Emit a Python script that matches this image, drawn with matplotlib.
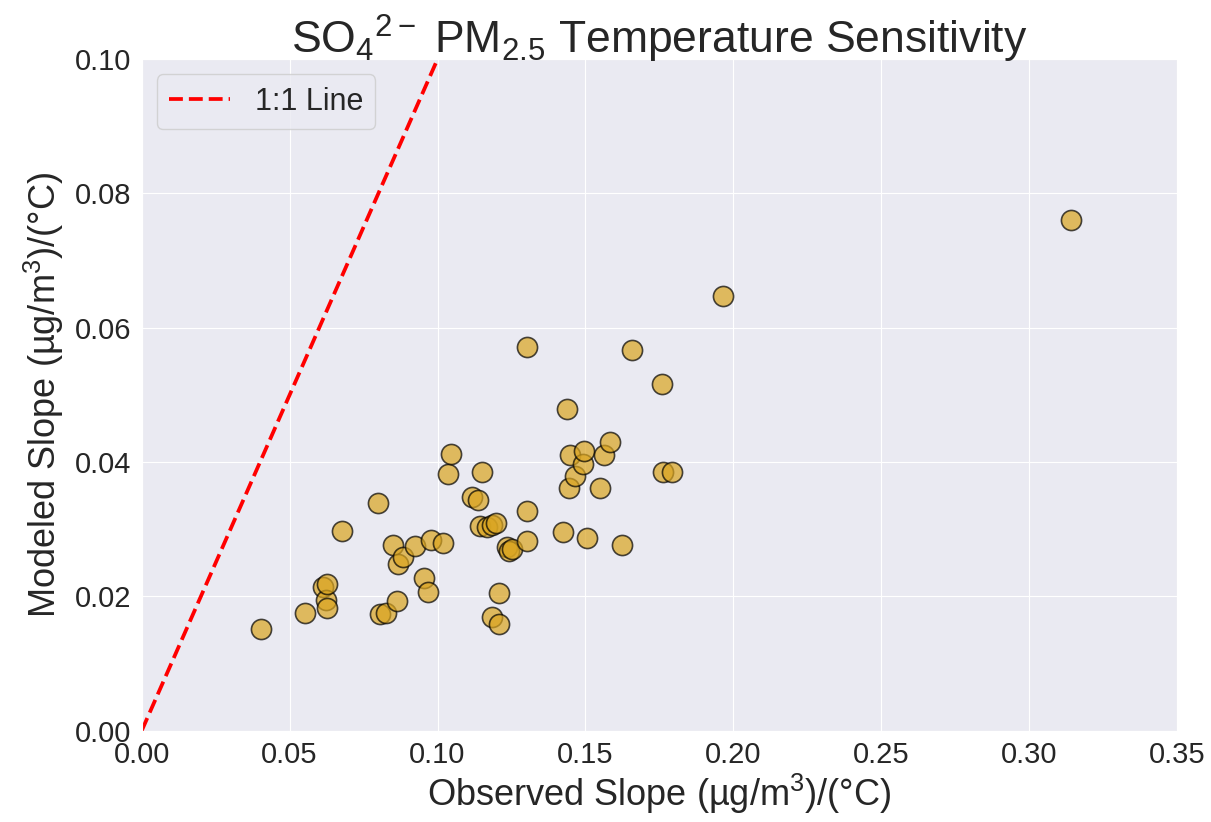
import numpy as np
import matplotlib
matplotlib.use("Agg")
import matplotlib.pyplot as plt
import seaborn as sns

# ------------ dados ------------------------------- #
obs_slope = [0.0402, 0.0551, 0.0612, 0.0622, 0.0626, 0.0626, 0.0676, 0.0798, 0.0805, 0.0825,
             0.0849, 0.0862, 0.0866, 0.0883, 0.0923, 0.0954, 0.0967, 0.0977, 0.1018, 0.1035,
             0.1045, 0.1116, 0.1136, 0.1143, 0.1150, 0.1167, 0.1184, 0.1184, 0.1197, 0.1207,
             0.1207, 0.1234, 0.1241, 0.1251, 0.1302, 0.1302, 0.1302, 0.1424, 0.1437, 0.1444,
             0.1447, 0.1464, 0.1491, 0.1495, 0.1505, 0.1549, 0.1562, 0.1583, 0.1623, 0.1657,
             0.1759, 0.1762, 0.1792, 0.1965, 0.3142]
mod_slope = [0.0152, 0.0176, 0.0214, 0.0195, 0.0219, 0.0183, 0.0298, 0.0339, 0.0174, 0.0176,
             0.0277, 0.0193, 0.0249, 0.0259, 0.0275, 0.0228, 0.0207, 0.0284, 0.0280, 0.0382,
             0.0412, 0.0348, 0.0344, 0.0305, 0.0386, 0.0304, 0.0170, 0.0307, 0.0310, 0.0205,
             0.0159, 0.0274, 0.0268, 0.0271, 0.0283, 0.0327, 0.0572, 0.0296, 0.0479, 0.0362,
             0.0411, 0.0379, 0.0397, 0.0416, 0.0287, 0.0362, 0.0410, 0.0430, 0.0276, 0.0567,
             0.0517, 0.0385, 0.0385, 0.0647, 0.0760]

sns.set_style("darkgrid")
plt.rcParams['font.family'] = ['Liberation Sans', 'DejaVu Sans']
plt.rcParams['mathtext.fontset'] = 'custom'
plt.rcParams['mathtext.rm'] = 'Liberation Sans'
plt.rcParams['mathtext.it'] = 'Liberation Sans:italic'

fig = plt.figure(figsize=(12.11, 8.22), dpi=100)
ax = fig.add_axes([0.117, 0.111, 0.855, 0.817])

ax.plot([0, 0.35], [0, 0.35], color='red', linestyle='--', linewidth=2.7, label='1:1 Line')
ax.scatter(obs_slope, mod_slope, s=210, color='goldenrod', alpha=0.7,
           edgecolor='black', linewidth=1.2, zorder=3)

ax.set_xlim(0, 0.35)
ax.set_ylim(0, 0.10)
ax.set_xticks(np.arange(0, 0.351, 0.05))
ax.set_yticks(np.arange(0, 0.101, 0.02))
ax.set_xticklabels([f"{v:.2f}" for v in np.arange(0, 0.351, 0.05)])
ax.set_yticklabels([f"{v:.2f}" for v in np.arange(0, 0.101, 0.02)])
ax.tick_params(labelsize=21, pad=4)

ax.set_title(r'SO$_4$$^{2-}$ PM$_{2.5}$ Temperature Sensitivity', fontsize=32, pad=4)
ax.set_xlabel(r'Observed Slope (µg/m$^3$)/(°C)', fontsize=26, labelpad=2)
ax.set_ylabel(r'Modeled Slope (µg/m$^3$)/(°C)', fontsize=26, labelpad=6)

ax.legend(loc='upper left', fontsize=22, frameon=True)

fig.savefig('out.png', dpi=100)
